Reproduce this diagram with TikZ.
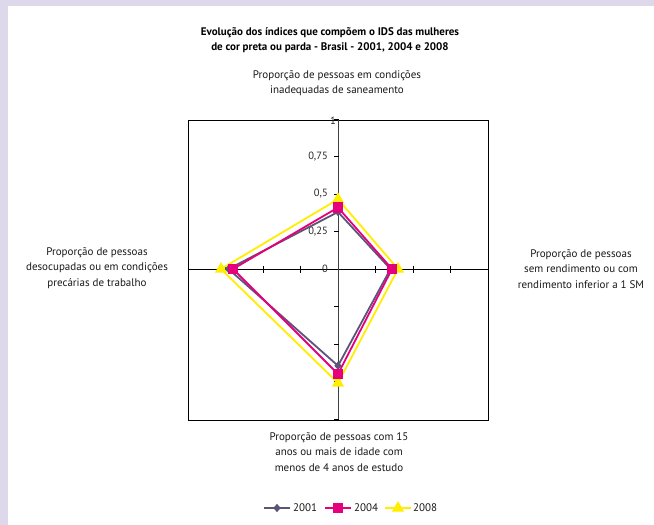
\documentclass[tikz,border=0pt]{standalone}
\usepackage{fontspec}
\setmainfont{PT Sans}
\usetikzlibrary{shapes.geometric}
\definecolor{lav}{HTML}{DDD9EB}
\definecolor{sA}{HTML}{5C5578}
\definecolor{sB}{HTML}{E5007D}
\definecolor{sC}{HTML}{FFEE00}
\tikzset{
  lbl/.style={align=center, font=\fontsize{11}{15.2}\selectfont, text=black!90, inner sep=0pt},
  ttl/.style={align=center, font=\bfseries\fontsize{11}{14.5}\selectfont, inner sep=0pt},
  tick/.style={font=\fontsize{10.5}{12}\selectfont, anchor=east, inner sep=0pt, text=black!85},
  ser/.style={line width=1.8pt, line join=miter},
  mkA/.style={diamond, fill=sA, minimum width=7.5pt, minimum height=8.5pt, inner sep=0pt},
  mkB/.style={rectangle, fill=sB, minimum size=10.5pt, inner sep=0pt},
  mkC/.style={isosceles triangle, isosceles triangle apex angle=60, shape border rotate=90, fill=sC, minimum height=10.5pt, inner sep=0pt},
}
\begin{document}
\begin{tikzpicture}[x=1pt,y=-1pt]
\useasboundingbox (0,0) rectangle (654,525);
\fill[white] (0,0) rectangle (654,525);
\fill[lav] (0,0) rectangle (654,6);
\fill[lav] (0,0) rectangle (8,525);
% title
\node[ttl] (title) at (330,40) {Evolução dos índices que compõem o IDS das mulheres\\de cor preta ou parda - Brasil - 2001, 2004 e 2008};
\node[lbl] (ltop) at (337,83.5) {Proporção de pessoas em condições\\inadequadas de saneamento};
\node[lbl] (lleft) at (97,268) {Proporção de pessoas\\desocupadas ou em condições\\precárias de trabalho};
\node[lbl] (lright) at (581,269) {Proporção de pessoas\\sem rendimento ou com\\rendimento inferior a 1 SM};
\node[lbl] (lbot) at (339,452) {Proporção de pessoas com 15\\anos ou mais de idade com\\menos de 4 anos de estudo};
% frame
\coordinate (O) at (338,269);
\draw[black, line width=0.9pt] (188,120) rectangle (488,420);
\draw[black, line width=1pt] (188,269) -- (488,269);
\draw[black!75, line width=1pt] (338,120) -- (338,420);
\foreach \k in {1,2,3,4}{
  \draw[black, line width=0.8pt] (338-4,269-37.5*\k) -- (338+1,269-37.5*\k);
  \draw[black, line width=0.8pt] (338-4,269+37.5*\k) -- (338+1,269+37.5*\k);
  \draw[black, line width=0.8pt] (338+37.5*\k,269-3.5) -- (338+37.5*\k,269+3.5);
  \draw[black, line width=0.8pt] (338-37.5*\k,269-3.5) -- (338-37.5*\k,269+3.5);
}
\node[tick] (t0) at (328,269) {0};
\node[tick] (t1) at (328,231.5) {0,25};
\node[tick] (t2) at (328,194) {0,5};
\node[tick] (t3) at (328,156.5) {0,75};
\node[tick] (t4) at (336,121) {1};
% data: top, right, bottom, left
\coordinate (a1) at (338,269-150*0.38);
\coordinate (a2) at (338+150*0.35,269);
\coordinate (a3) at (338,269+150*0.645);
\coordinate (a4) at (338-150*0.73,269);
\coordinate (b1) at (338,269-150*0.41);
\coordinate (b2) at (338+150*0.36,269);
\coordinate (b3) at (338,269+150*0.70);
\coordinate (b4) at (338-150*0.70,269);
\coordinate (c1) at (338,269-150*0.465);
\coordinate (c2) at (338+150*0.40,269);
\coordinate (c3) at (338,269+150*0.76);
\coordinate (c4) at (338-150*0.78,269);
\draw[ser, sC] (c1) -- (c2) -- (c3) -- (c4) -- cycle;
\draw[ser, sA] (a1) -- (a2) -- (a3) -- (a4) -- cycle;
\draw[ser, sB] (b1) -- (b2) -- (b3) -- (b4) -- cycle;
\foreach \p in {c1,c2,c3,c4}{\node[mkC] at (\p) {};}
\foreach \p in {a1,a2,a3,a4}{\node[mkA] at (\p) {};}
\foreach \p in {b1,b2,b3,b4}{\node[mkB] at (\p) {};}
% legend
\coordinate (la0) at (264,508); \coordinate (la1) at (290,508);
\coordinate (lb0) at (325,508); \coordinate (lb1) at (351,508);
\coordinate (lc0) at (385,508); \coordinate (lc1) at (411,508);
\draw[sA, line width=1.8pt] (la0) -- (la1);
\node[mkA] (ma) at (277,508) {};
\draw[sB, line width=1.8pt] (lb0) -- (lb1);
\node[mkB] (mb) at (338,508) {};
\draw[sC, line width=1.8pt] (lc0) -- (lc1);
\node[mkC] (mc) at (398,508) {};
\node[lbl, anchor=west] (ta) at (293,508) {2001};
\node[lbl, anchor=west] (tb) at (354,508) {2004};
\node[lbl, anchor=west] (tc) at (413,508) {2008};
\end{tikzpicture}
\end{document}
